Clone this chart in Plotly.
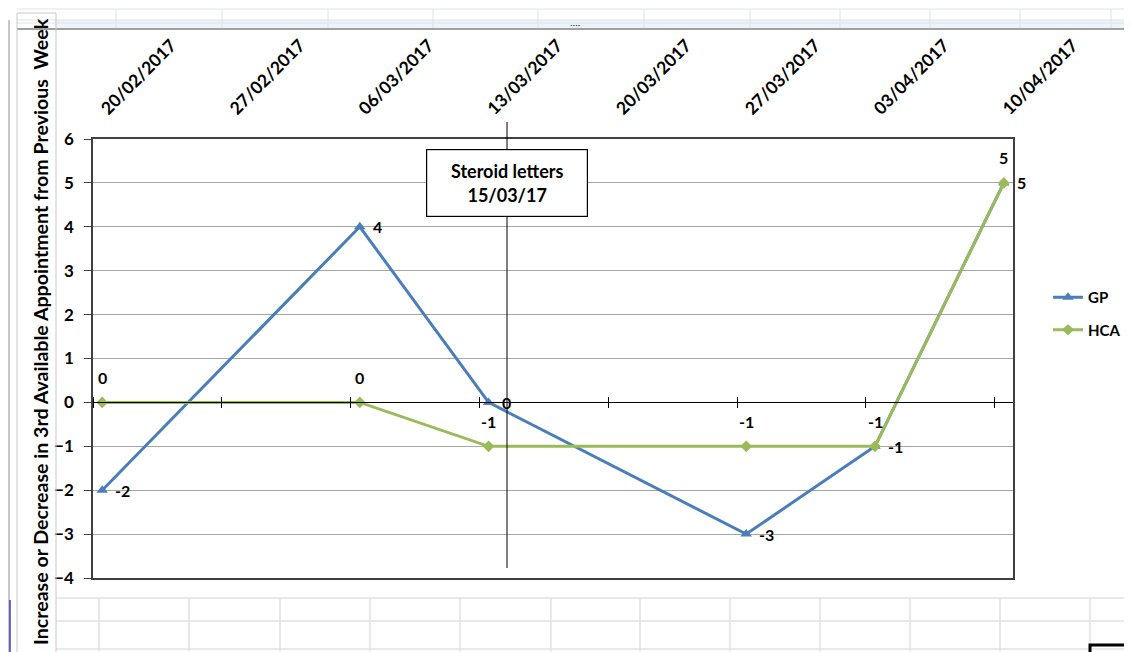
import plotly.graph_objects as go

# ---- data ----
dates = ['2017-02-20', '2017-02-27', '2017-03-06', '2017-03-13',
         '2017-03-20', '2017-03-27', '2017-04-03', '2017-04-10']
tick_labels = ['20/02/2017', '27/02/2017', '06/03/2017', '13/03/2017',
               '20/03/2017', '27/03/2017', '03/04/2017', '10/04/2017']
gp_values = [-2, None, 4, 0, None, -3, -1, 5]
hca_values = [0, None, 0, -1, None, -1, -1, 5]
event_date = '2017-03-14'
event_text = 'Steroid letters<br>15/03/17'
y_title = 'Increase or Decrease in 3rd Available Appointment from Previous  Week'

GP_COLOR = '#4A7EBB'
HCA_COLOR = '#9BBB59'
FONT = 'Lato'

OFF = 8  # page body margin
W, H = 1132 - OFF, 652 - OFF
# plot area in page pixels
L, R_EDGE, T, B_EDGE = 93, 1013, 139, 578
PW, PH = R_EDGE - L, B_EDGE - T


def px(x):
    return (x - L) / PW


def py(y):
    return (B_EDGE - y) / PH


x_range = ['2017-02-19 12:00', '2017-04-10 12:00']

fig = go.Figure()
fig.add_trace(go.Scatter(
    x=dates, y=gp_values, name='GP', mode='lines+markers', connectgaps=True,
    line=dict(color=GP_COLOR, width=3),
    marker=dict(symbol='triangle-up', size=10, color=GP_COLOR),
    legendgroup='gp'))
fig.add_trace(go.Scatter(
    x=dates, y=hca_values, name='HCA', mode='lines+markers', connectgaps=True,
    line=dict(color=HCA_COLOR, width=3),
    marker=dict(symbol='diamond', size=9, color=HCA_COLOR),
    legendgroup='hca'))
# invisible helpers so the y=0 crossing axes are drawn
for ax in ['x2', 'x3']:
    fig.add_trace(go.Scatter(x=x_range, y=[0, 0], xaxis=ax, mode='lines',
                             line=dict(width=0), opacity=0, showlegend=False,
                             hoverinfo='skip'))

annotations = []
lab_font = dict(family=FONT, size=16, color='black', weight='bold')
for d, v in zip(dates, gp_values):
    if v is not None:
        annotations.append(dict(x=d, y=v, xref='x', yref='y', text=str(v),
                                showarrow=False, xanchor='left', xshift=11,
                                font=lab_font))
for d, v in zip(dates, hca_values):
    if v is not None:
        annotations.append(dict(x=d, y=v, xref='x', yref='y', text=str(v),
                                showarrow=False, yshift=25, font=lab_font))

annotations.append(dict(x=event_date, xref='x', y=py(183), yref='paper',
                        xanchor='center', yanchor='middle',
                        text=event_text, showarrow=False,
                        font=dict(family=FONT, size=18, color='black', weight='bold'),
                        bgcolor='white', bordercolor='black', borderwidth=1.2,
                        borderpad=5, width=150, height=56))
annotations.append(dict(x=px(40), y=py(332), xref='paper', yref='paper',
                        xanchor='center', yanchor='middle',
                        text=y_title, textangle=-90, showarrow=False,
                        font=dict(family=FONT, size=19.6, color='black', weight='bold')))
annotations.append(dict(x=px(575), y=py(24), xref='paper', yref='paper',
                        xanchor='center', yanchor='middle',
                        text='····', showarrow=False,
                        font=dict(family=FONT, size=10, color='#555555')))

shapes = []
shapes.append(dict(type='line', xref='x', yref='paper', x0=event_date, x1=event_date,
                   y0=py(568), y1=py(122), line=dict(color='black', width=1)))

cell = '#dde3ea'
# top spreadsheet strip
for yy, col, wd in [(9, cell, 1), (20, cell, 1), (23, cell, 1), (29, '#a0a0a0', 2)]:
    shapes.append(dict(type='line', xref='paper', yref='paper', x0=px(17), x1=px(1140),
                       y0=py(yy), y1=py(yy), line=dict(color=col, width=wd)))
shapes.append(dict(type='rect', xref='paper', yref='paper', x0=px(55), x1=px(1140),
                   y0=py(28), y1=py(20), fillcolor='#eef5f8', line=dict(width=0),
                   layer='below'))
for xx in [116, 222, 328, 433, 538, 644, 750, 840, 930, 1020, 1111]:
    shapes.append(dict(type='line', xref='paper', yref='paper', x0=px(xx), x1=px(xx),
                       y0=py(9), y1=py(28), line=dict(color=cell, width=1)))
# bottom spreadsheet grid
grid = '#e2e2e2'
for yy in [598, 621, 649]:
    shapes.append(dict(type='line', xref='paper', yref='paper', x0=px(56), x1=px(1140),
                       y0=py(yy), y1=py(yy), line=dict(color=grid, width=1.5)))
for xx in [99, 189, 280, 370, 460, 551, 640, 730, 820, 910, 1000, 1090]:
    shapes.append(dict(type='line', xref='paper', yref='paper', x0=px(xx), x1=px(xx),
                       y0=py(598), y1=py(660), line=dict(color=grid, width=1.5)))
shapes.append(dict(type='rect', xref='paper', yref='paper', x0=px(1090), x1=px(1145),
                   y0=py(645), y1=py(665), line=dict(color='black', width=3)))
# y-title panel
shapes.append(dict(type='rect', xref='paper', yref='paper', x0=px(17), x1=px(56),
                   y0=py(665), y1=py(13), line=dict(color='#c8c8c8', width=1)))
shapes.append(dict(type='line', xref='paper', yref='paper', x0=px(9), x1=px(9),
                   y0=py(660), y1=py(20), line=dict(color='#c8c8c8', width=2)))
shapes.append(dict(type='line', xref='paper', yref='paper', x0=px(10), x1=px(10),
                   y0=py(660), y1=py(600), line=dict(color='#3b3bd0', width=1.5)))

xtick_font = dict(family=FONT, size=17.5, color='black', weight='bold')
ytick_font = dict(family=FONT, size=17, color='black', weight='bold')
axis_common = dict(type='date', range=x_range, tick0='2017-02-19 12:00',
                   dtick=7 * 86400000, showticklabels=False, ticks='outside',
                   ticklen=5, tickcolor='black', tickwidth=1, showline=True,
                   linecolor='black', linewidth=1, showgrid=False, zeroline=False,
                   overlaying='x', anchor='free', position=0.4)

fig.update_layout(
    width=W, height=H,
    margin=dict(l=L - OFF, r=W - (R_EDGE - OFF), t=T - OFF, b=H - (B_EDGE - OFF),
                autoexpand=False),
    paper_bgcolor='white', plot_bgcolor='white',
    font=dict(family=FONT, color='black'),
    showlegend=True,
    legend=dict(x=px(1048), y=py(281), xanchor='left', yanchor='top',
                font=dict(family=FONT, size=15, color='black', weight='bold'),
                bgcolor='rgba(0,0,0,0)', tracegroupgap=10, traceorder='grouped'),
    xaxis=dict(type='date', range=x_range, side='top', tickvals=dates,
               ticktext=tick_labels, tickangle=-45, tickfont=xtick_font,
               ticks='', ticklabelstandoff=12, showgrid=False, zeroline=False,
               showline=True, mirror=True, linecolor='#404040', linewidth=1.5,
               automargin=False),
    xaxis2=dict(side='bottom', **axis_common),
    xaxis3=dict(side='top', **axis_common),
    yaxis=dict(range=[-4, 6], dtick=1, tickfont=ytick_font, ticks='outside',
               ticklen=7, tickcolor='#404040', ticklabelstandoff=7, showline=True,
               mirror=True, linecolor='#404040', linewidth=1.5, gridcolor='#a6a6a6',
               gridwidth=1, zeroline=False, automargin=False),
    annotations=annotations,
    shapes=shapes,
)

fig.write_html('out.html')
